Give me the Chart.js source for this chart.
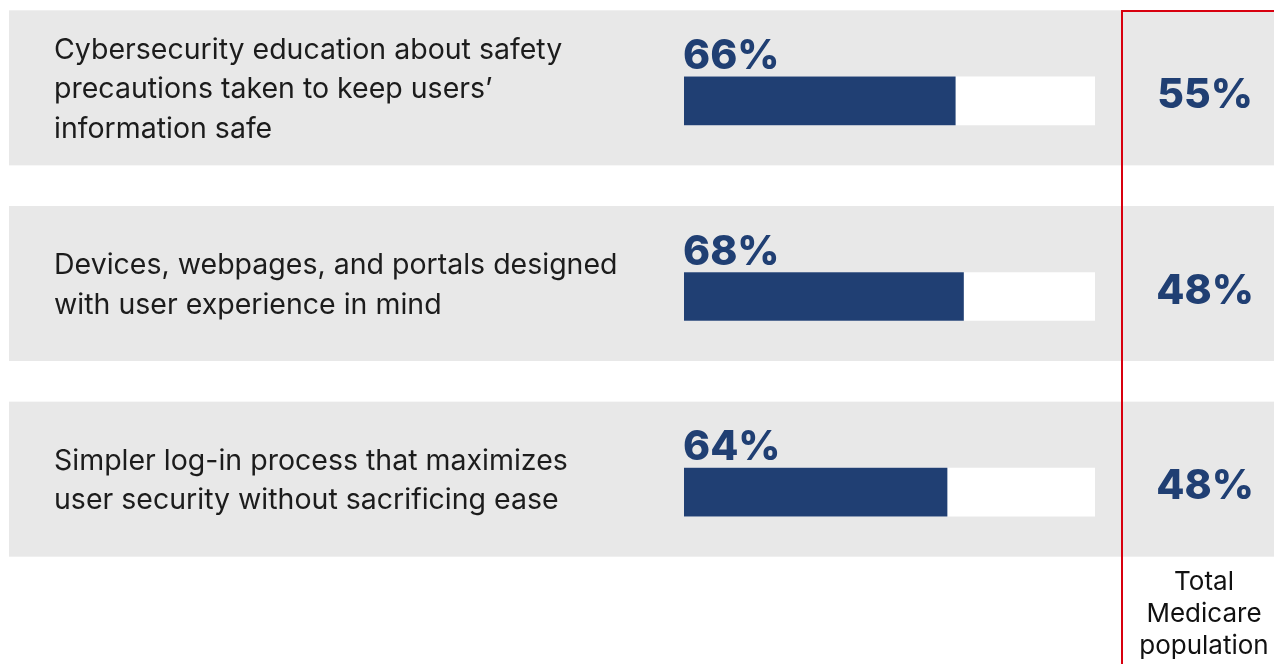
<!DOCTYPE html>
<html>
<head>
<meta charset="utf-8">
<title>Digital health priorities</title>
<script src="https://cdn.jsdelivr.net/npm/chart.js@4.4.1/dist/chart.umd.min.js"></script>
<style>
  html, body { margin: 0; padding: 0; background: #fff; }
  #wrap { position: relative; width: 1274px; height: 664px; }
</style>
</head>
<body>
<div id="wrap"><canvas id="chart"></canvas></div>
<script>
// survey items, one line per row of text
var itemLines = [
  ["Cybersecurity education about safety", "precautions taken to keep users\u2019", "information safe"],
  ["Devices, webpages, and portals designed", "with user experience in mind"],
  ["Simpler log-in process that maximizes", "user security without sacrificing ease"]
];
var itemKeys = ["security-education", "user-experience", "simpler-login"];
var segmentValues = [66, 68, 64];   // bar values (%)
var totalValues = [55, 48, 48];     // Total Medicare population (%)
var trackValues = [100, 100, 100];  // white background track
var totalLabel = ["Total", "Medicare", "population"];

var navy = "#203f73";
var band = "#e8e8e8";
var red = "#d8000f";

var decor = {
  id: "decor",
  beforeDatasetsDraw: function(chart) {
    var ctx = chart.ctx;
    var y = chart.scales.y;
    ctx.save();
    // grey row bands
    ctx.fillStyle = band;
    for (var i = 0; i < itemKeys.length; i++) {
      var c = y.getPixelForValue(i);
      ctx.fillRect(9, c - 90.5, chart.width, 155);
    }
    // outline around the total column
    ctx.strokeStyle = red;
    ctx.lineWidth = 2;
    ctx.strokeRect(1122, 11, 200, 700);
    ctx.restore();
  },
  afterDatasetsDraw: function(chart) {
    var ctx = chart.ctx;
    var y = chart.scales.y;
    var x = chart.scales.x;
    ctx.save();
    for (var i = 0; i < itemKeys.length; i++) {
      var c = y.getPixelForValue(i);
      var lines = itemLines[i];

      // item text, vertically centred in the band
      ctx.fillStyle = "#1c1c1c";
      ctx.font = "400 28.5px Inter";
      ctx.textAlign = "left";
      ctx.textBaseline = "middle";
      var lh = 39.5;
      var mid = c - 11;
      var start = mid - (lines.length - 1) * lh / 2;
      for (var j = 0; j < lines.length; j++) {
        ctx.fillText(lines[j], 54, start + j * lh);
      }

      // value above the bar
      ctx.fillStyle = navy;
      ctx.font = "800 41px Inter";
      ctx.textBaseline = "alphabetic";
      ctx.fillText(segmentValues[i] + "%", x.getPixelForValue(0) - 1, c - 32);

      // total population value
      ctx.textAlign = "center";
      ctx.fillText(totalValues[i] + "%", 1205, c + 7);
    }
    ctx.fillStyle = "#111";
    ctx.font = "400 26px Inter";
    ctx.textAlign = "center";
    ctx.textBaseline = "middle";
    for (var k = 0; k < totalLabel.length; k++) {
      ctx.fillText(totalLabel[k], 1204, 582 + k * 32);
    }
    ctx.restore();
  }
};

new Chart(document.getElementById("chart"), {
  type: "bar",
  data: {
    labels: itemKeys,
    datasets: [
      {
        data: segmentValues,
        backgroundColor: navy,
        barThickness: 48,
        grouped: false,
        order: 1
      },
      {
        data: trackValues,
        backgroundColor: "#ffffff",
        barThickness: 48,
        grouped: false,
        order: 2
      }
    ]
  },
  options: {
    indexAxis: "y",
    responsive: true,
    maintainAspectRatio: false,
    animation: false,
    layout: { padding: { left: 684, right: 179, top: 3, bottom: 74 } },
    plugins: {
      legend: { display: false },
      tooltip: { enabled: false }
    },
    scales: {
      x: { display: false, min: 0, max: 100 },
      y: { display: false, offset: true }
    }
  },
  plugins: [decor]
});
</script>
</body>
</html>
